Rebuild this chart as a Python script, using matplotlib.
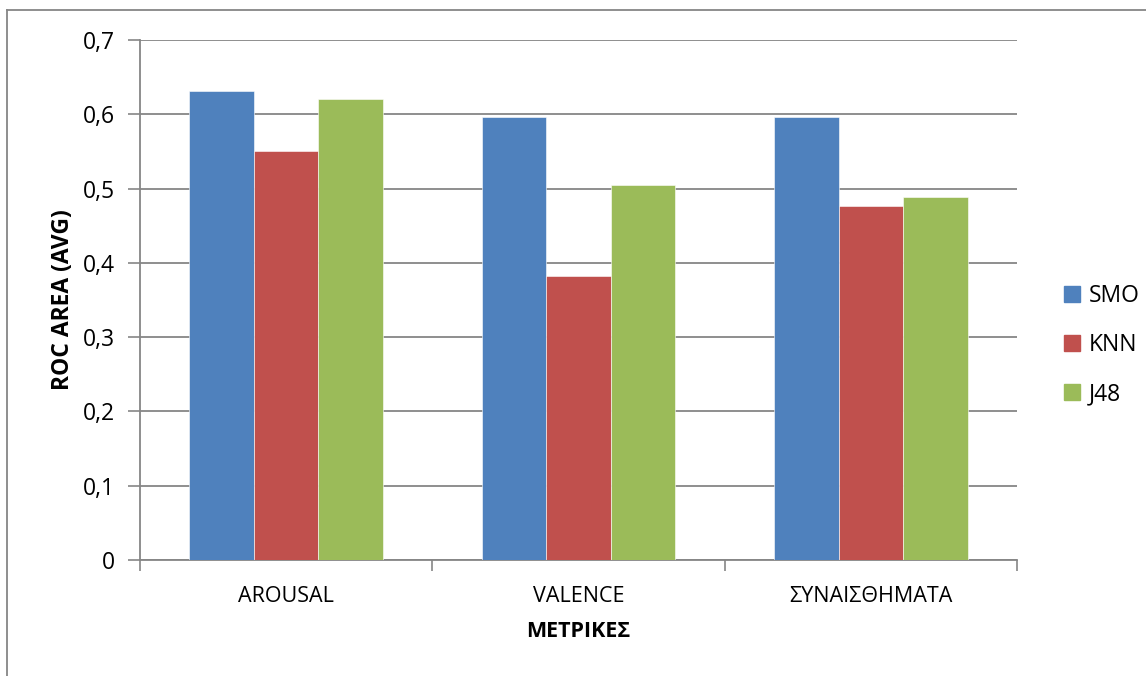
import matplotlib.pyplot as plt
import numpy as np
from matplotlib.lines import Line2D

categories = ['AROUSAL', 'VALENCE', 'ΣΥΝΑΙΣΘΗΜΑΤΑ']
series_names = ['SMO', 'KNN', 'J48']
smo = [0.632, 0.597, 0.597]
knn = [0.550, 0.382, 0.476]
j48 = [0.621, 0.505, 0.489]
colors = ['#4F81BD', '#C0504D', '#9BBB59']
y_ticks = [0, 0.1, 0.2, 0.3, 0.4, 0.5, 0.6, 0.7]

plt.rcParams['font.family'] = ['Open Sans', 'DejaVu Sans']

fig = plt.figure(figsize=(11.46, 6.76), dpi=100)
ax = fig.add_axes([140 / 1146, 1 - 560 / 676, 877 / 1146, 520 / 676])

x = np.arange(len(categories))
width = 0.221
for i, (vals, name, c) in enumerate(zip([smo, knn, j48], series_names, colors)):
    ax.bar(x + (i - 1) * width, vals, width, color=c, label=name,
           edgecolor='white', linewidth=0.4, zorder=3)

# 设置坐标轴范围和刻度
ax.set_xlim(-0.5, len(categories) - 0.5)
ax.set_ylim(0, 0.7)
ax.set_yticks(y_ticks)
ax.set_yticklabels([('%.1f' % v).replace('.', ',') if v else '0' for v in y_ticks])
ax.set_xticks(x)
ax.set_xticklabels(categories)
ax.set_xticks(np.arange(-0.5, len(categories)), minor=True)

grey = '#868686'
ax.yaxis.grid(True, color=grey, linewidth=1.3, zorder=0)
ax.tick_params(axis='x', which='major', length=0, pad=19, labelsize=15.5)
ax.tick_params(axis='x', which='minor', length=8, width=1.2, color=grey)
ax.tick_params(axis='y', length=9, width=1.2, color=grey, pad=9, labelsize=16.5)

for s in ['top', 'right']:
    ax.spines[s].set_visible(False)
for s in ['left', 'bottom']:
    ax.spines[s].set_color(grey)
    ax.spines[s].set_linewidth(1.3)

ax.set_ylabel('ROC AREA (AVG)', fontsize=16.5, fontweight='bold', labelpad=6)
ax.set_xlabel('ΜΕΤΡΙΚΕΣ', fontsize=15.5, fontweight='bold', labelpad=10)

# 图例
handles = [Line2D([], [], marker='s', linestyle='none', markersize=11,
                  markerfacecolor=c, markeredgecolor=c) for c in colors]
fig.legend(handles, series_names, loc='center left',
           bbox_to_anchor=(1042 / 1146, 1 - 345 / 676), frameon=False,
           fontsize=16.5, handlelength=0.8, handletextpad=0.35, labelspacing=1.1)

# 外边框
fig.add_artist(Line2D([7 / 1146, 7 / 1146], [0, 1 - 10 / 676],
                      transform=fig.transFigure, color=grey, linewidth=1.3))
fig.add_artist(Line2D([7 / 1146, 1], [1 - 10 / 676, 1 - 10 / 676],
                      transform=fig.transFigure, color=grey, linewidth=1.3))

fig.savefig('out.png', dpi=100)
